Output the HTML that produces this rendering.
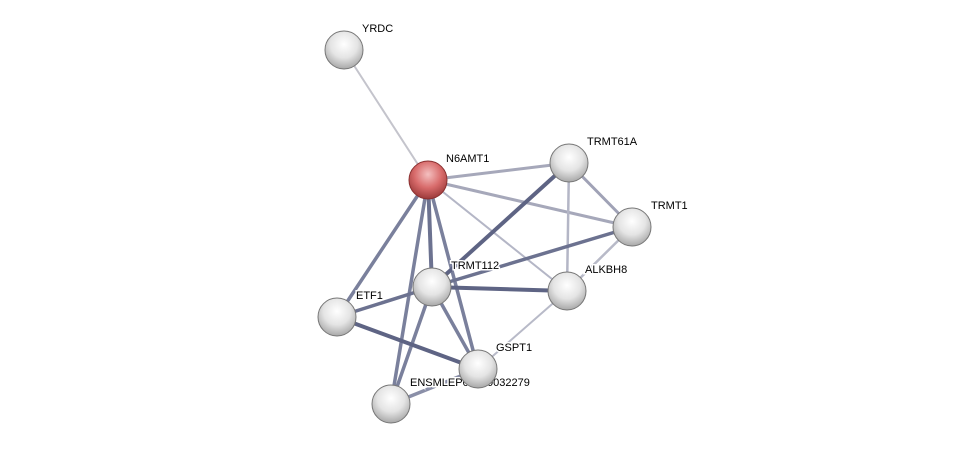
<!DOCTYPE html>
<html><head><style>html,body{margin:0;padding:0;background:#fff;}svg{display:block}</style></head><body>
<svg width="975" height="449" viewBox="0 0 975 449" xmlns="http://www.w3.org/2000/svg" font-family="Liberation Sans, sans-serif" font-size="11">
<defs>
<radialGradient id="g" cx="0.5" cy="0.35" r="0.65">
<stop offset="0" stop-color="#ffffff"/><stop offset="0.55" stop-color="#e4e4e4"/><stop offset="1" stop-color="#a8a8a8"/></radialGradient>
<radialGradient id="r" cx="0.5" cy="0.35" r="0.65">
<stop offset="0" stop-color="#f4c0c0"/><stop offset="0.55" stop-color="#d86b6b"/><stop offset="1" stop-color="#9c3a3a"/></radialGradient>
</defs>
<g stroke-linecap="round">
<line x1="344" y1="50" x2="428" y2="180" stroke="#c4c4cc" stroke-width="2"/>
<line x1="428" y1="180" x2="569" y2="163" stroke="#a6a8ba" stroke-width="3"/>
<line x1="428" y1="180" x2="632" y2="227" stroke="#a6a8ba" stroke-width="3"/>
<line x1="428" y1="180" x2="567" y2="291" stroke="#b4b6c6" stroke-width="2"/>
<line x1="428" y1="180" x2="432" y2="287" stroke="#6c7290" stroke-width="4"/>
<line x1="428" y1="180" x2="337" y2="317" stroke="#7a809c" stroke-width="3.5"/>
<line x1="428" y1="180" x2="478" y2="369" stroke="#7a809c" stroke-width="3.5"/>
<line x1="428" y1="180" x2="391" y2="404" stroke="#7a809c" stroke-width="3.5"/>
<line x1="569" y1="163" x2="632" y2="227" stroke="#a0a2b6" stroke-width="3"/>
<line x1="569" y1="163" x2="567" y2="291" stroke="#b4b6c6" stroke-width="2.5"/>
<line x1="569" y1="163" x2="432" y2="287" stroke="#5e6484" stroke-width="4"/>
<line x1="632" y1="227" x2="432" y2="287" stroke="#6c7290" stroke-width="3.5"/>
<line x1="632" y1="227" x2="567" y2="291" stroke="#b8bac8" stroke-width="2.5"/>
<line x1="432" y1="287" x2="567" y2="291" stroke="#5e6484" stroke-width="4"/>
<line x1="432" y1="287" x2="337" y2="317" stroke="#6c7290" stroke-width="3.5"/>
<line x1="432" y1="287" x2="478" y2="369" stroke="#7a809c" stroke-width="3.5"/>
<line x1="432" y1="287" x2="391" y2="404" stroke="#7a809c" stroke-width="3.5"/>
<line x1="337" y1="317" x2="478" y2="369" stroke="#5e6484" stroke-width="4"/>
<line x1="567" y1="291" x2="478" y2="369" stroke="#b8bac8" stroke-width="2"/>
<line x1="391" y1="404" x2="478" y2="369" stroke="#8a8fa8" stroke-width="3.5"/>
</g>
<g stroke="#fff" stroke-width="3" paint-order="stroke" fill="#000">
<text x="410" y="386">ENSMLEP00000032279</text>
</g>
<g stroke="#777" stroke-width="1">
<circle cx="344" cy="50" r="19" fill="url(#g)"/>
<circle cx="428" cy="180" r="19" fill="url(#r)" stroke="#8a3030"/>
<circle cx="569" cy="163" r="19" fill="url(#g)"/>
<circle cx="632" cy="227" r="19" fill="url(#g)"/>
<circle cx="567" cy="291" r="19" fill="url(#g)"/>
<circle cx="432" cy="287" r="19" fill="url(#g)"/>
<circle cx="337" cy="317" r="19" fill="url(#g)"/>
<circle cx="478" cy="369" r="19" fill="url(#g)"/>
<circle cx="391" cy="404" r="19" fill="url(#g)"/>
</g>
<g stroke="#fff" stroke-width="3" paint-order="stroke" fill="#000">
<text x="362" y="32">YRDC</text>
<text x="446" y="162">N6AMT1</text>
<text x="587" y="145">TRMT61A</text>
<text x="651" y="209">TRMT1</text>
<text x="585" y="273">ALKBH8</text>
<text x="451" y="269">TRMT112</text>
<text x="356" y="299">ETF1</text>
<text x="496" y="351">GSPT1</text>
</g>
</svg>
</body></html>
